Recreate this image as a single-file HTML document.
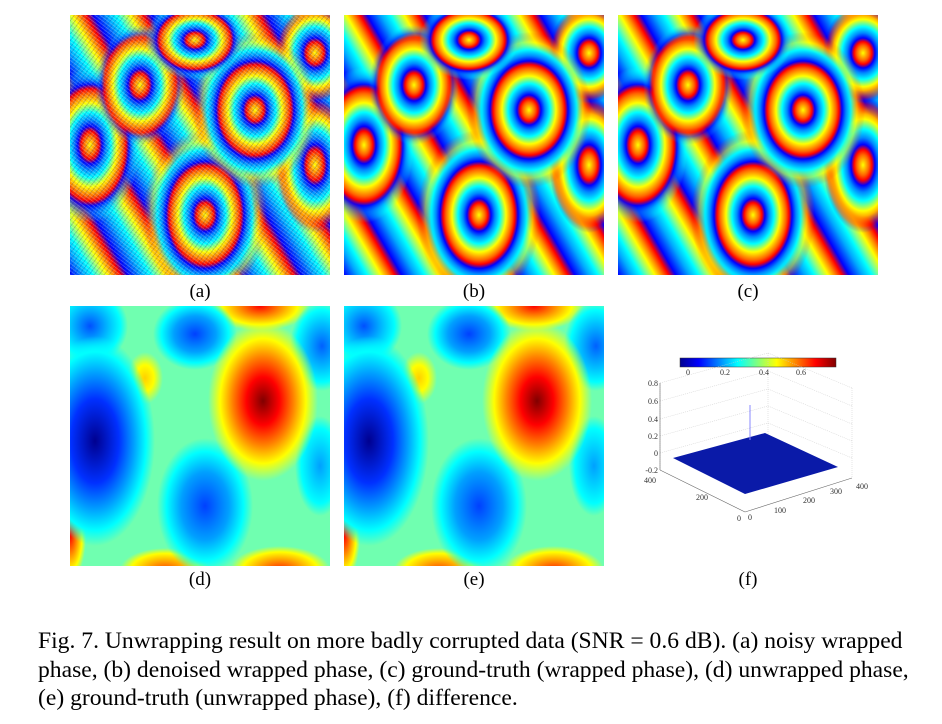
<!DOCTYPE html>
<html><head><meta charset="utf-8"><style>
body{margin:0;width:942px;height:724px;background:#fff;position:relative;overflow:hidden;font-family:"Liberation Serif",serif;}
.p{position:absolute;width:260px;height:260px;overflow:hidden;}
.w{background:repeating-linear-gradient(60deg,#00f 0,#0af 12px,#0ff 20px,#8f8 26px,#ff0 32px,#f80 38px,#f00 44px,#00f 50px);}
.e{position:absolute;border-radius:50%;background:repeating-radial-gradient(closest-side,#ff0 0,#f60 6px,#f00 9px,#00f 12px,#08f 16px,#0ff 21px,#ff0 27px);-webkit-mask-image:radial-gradient(closest-side,#000 75%,transparent 100%);mask-image:radial-gradient(closest-side,#000 75%,transparent 100%);}
.noise:after{content:"";position:absolute;inset:0;background:repeating-linear-gradient(37deg,rgba(255,255,255,.2) 0 1px,transparent 1px 3px),repeating-linear-gradient(-53deg,rgba(0,0,120,.2) 0 1px,transparent 1px 4px);}
.u{background:
radial-gradient(ellipse 60px 105px at 25px 135px,#00008f 0,#0030ff 40%,#00a0ff 65%,#0ff 85%,transparent 100%),
radial-gradient(ellipse 55px 80px at 193px 95px,#800000 0,#f00 30%,#ff8000 55%,#ff0 78%,transparent 100%),
radial-gradient(ellipse 42px 36px at 125px 28px,#0040ff 0,#00a0ff 50%,#0ff 80%,transparent 100%),
radial-gradient(ellipse 48px 68px at 135px 200px,#0040ff 0,#00a0ff 50%,#0ff 80%,transparent 100%),
radial-gradient(ellipse 32px 45px at 252px 40px,#0060ff 0,#00c0ff 50%,#0ff 80%,transparent 100%),
radial-gradient(ellipse 25px 50px at 250px 160px,#00a0ff 0,#0ff 75%,transparent 100%),
radial-gradient(ellipse 38px 38px at 20px 20px,#0050ff 0,#00c0ff 50%,#0ff 80%,transparent 100%),
radial-gradient(ellipse 18px 26px at 75px 72px,#ffd000 0,#ff0 50%,transparent 100%),
radial-gradient(ellipse 50px 25px at 190px 0,#f00 0,#ff0 75%,transparent 100%),
radial-gradient(ellipse 45px 22px at 95px 264px,#f40 0,#ff0 75%,transparent 100%),
radial-gradient(ellipse 50px 24px at 210px 264px,#f20 0,#ff0 75%,transparent 100%),
radial-gradient(ellipse 16px 45px at 0 230px,#f00 0,#ff0 75%,transparent 100%),
#70ffb0;}
.lab{position:absolute;font-size:19px;width:60px;text-align:center;}
.cap{position:absolute;left:38px;font-size:23.6px;white-space:nowrap;}
.t{font-family:"Liberation Serif",serif;font-size:8px;fill:#333;}
</style></head><body>
<div class="p w noise" style="left:70px;top:15px" id="a"></div>
<div class="p w" style="left:344px;top:15px" id="b"></div>
<div class="p w" style="left:618px;top:15px" id="c"></div>
<div class="p u" style="left:70px;top:306px"></div>
<div class="p u" style="left:344px;top:306px"></div>
<svg style="position:absolute;left:630px;top:350px" width="250" height="180">
<defs><linearGradient id="jet"><stop offset="0" stop-color="#00008f"/><stop offset=".12" stop-color="#00f"/><stop offset=".37" stop-color="#0ff"/><stop offset=".62" stop-color="#ff0"/><stop offset=".87" stop-color="#f00"/><stop offset="1" stop-color="#800000"/></linearGradient></defs>
<rect x="50" y="8" width="156" height="9" fill="url(#jet)" stroke="#333" stroke-width=".5"/>
<g stroke="#ccc" stroke-width=".5" stroke-dasharray="1,1" fill="none">
<line x1="30" y1="33" x2="30" y2="120"/><line x1="30" y1="33" x2="138" y2="3"/><line x1="138" y1="3" x2="138" y2="85"/><line x1="138" y1="3" x2="222" y2="38"/><line x1="222" y1="38" x2="222" y2="128"/>
<line x1="30" y1="51" x2="138" y2="21"/><line x1="30" y1="69" x2="138" y2="39"/><line x1="30" y1="86" x2="138" y2="56"/><line x1="30" y1="103" x2="138" y2="73"/>
<line x1="138" y1="21" x2="222" y2="56"/><line x1="138" y1="39" x2="222" y2="74"/><line x1="138" y1="56" x2="222" y2="91"/><line x1="138" y1="73" x2="222" y2="108"/>
</g>
<g stroke="#666" stroke-width=".6" fill="none"><line x1="30" y1="33" x2="30" y2="120"/><line x1="30" y1="120" x2="115" y2="162"/><line x1="115" y1="162" x2="222" y2="128"/></g>
<polygon points="43,108 135,83 208,117 115,144" fill="#0a1aa8"/>
<line x1="120" y1="55" x2="120" y2="90" stroke="#88f" stroke-width="1"/>
<text class="t" x="56" y="25">0</text><text class="t" x="90" y="25">0.2</text><text class="t" x="129" y="25">0.4</text><text class="t" x="166" y="25">0.6</text>
<g text-anchor="end"><text class="t" x="28" y="36">0.8</text><text class="t" x="28" y="54">0.6</text><text class="t" x="28" y="72">0.4</text><text class="t" x="28" y="89">0.2</text><text class="t" x="28" y="106">0</text><text class="t" x="28" y="123">-0.2</text><text class="t" x="26" y="133">400</text><text class="t" x="78" y="150">200</text><text class="t" x="111" y="171">0</text></g>
<text class="t" x="118" y="170">0</text><text class="t" x="144" y="163">100</text><text class="t" x="173" y="153">200</text><text class="t" x="200" y="144">300</text><text class="t" x="226" y="139">400</text>
</svg>
<div class="lab" style="left:170px;top:281px">(a)</div>
<div class="lab" style="left:444px;top:281px">(b)</div>
<div class="lab" style="left:718px;top:281px">(c)</div>
<div class="lab" style="left:170px;top:569px">(d)</div>
<div class="lab" style="left:444px;top:569px">(e)</div>
<div class="lab" style="left:718px;top:569px">(f)</div>
<div class="cap" style="top:628px">Fig. 7. Unwrapping result on more badly corrupted data (SNR = 0.6 dB). (a) noisy wrapped</div>
<div class="cap" style="top:657px">phase, (b) denoised wrapped phase, (c) ground-truth (wrapped phase), (d) unwrapped phase,</div>
<div class="cap" style="top:685px">(e) ground-truth (unwrapped phase), (f) difference.</div>
<script>
var pts=[[125,25,50,40],[70,70,45,60],[185,95,62,78],[245,38,40,50],[20,130,50,78],[135,200,62,85],[245,150,40,68]];
["a","b","c"].forEach(function(id){var el=document.getElementById(id);pts.forEach(function(p){var d=document.createElement("div");d.className="e";d.style.left=(p[0]-p[2])+"px";d.style.top=(p[1]-p[3])+"px";d.style.width=2*p[2]+"px";d.style.height=2*p[3]+"px";el.insertBefore(d,el.firstChild);});});
</script>
</body></html>
